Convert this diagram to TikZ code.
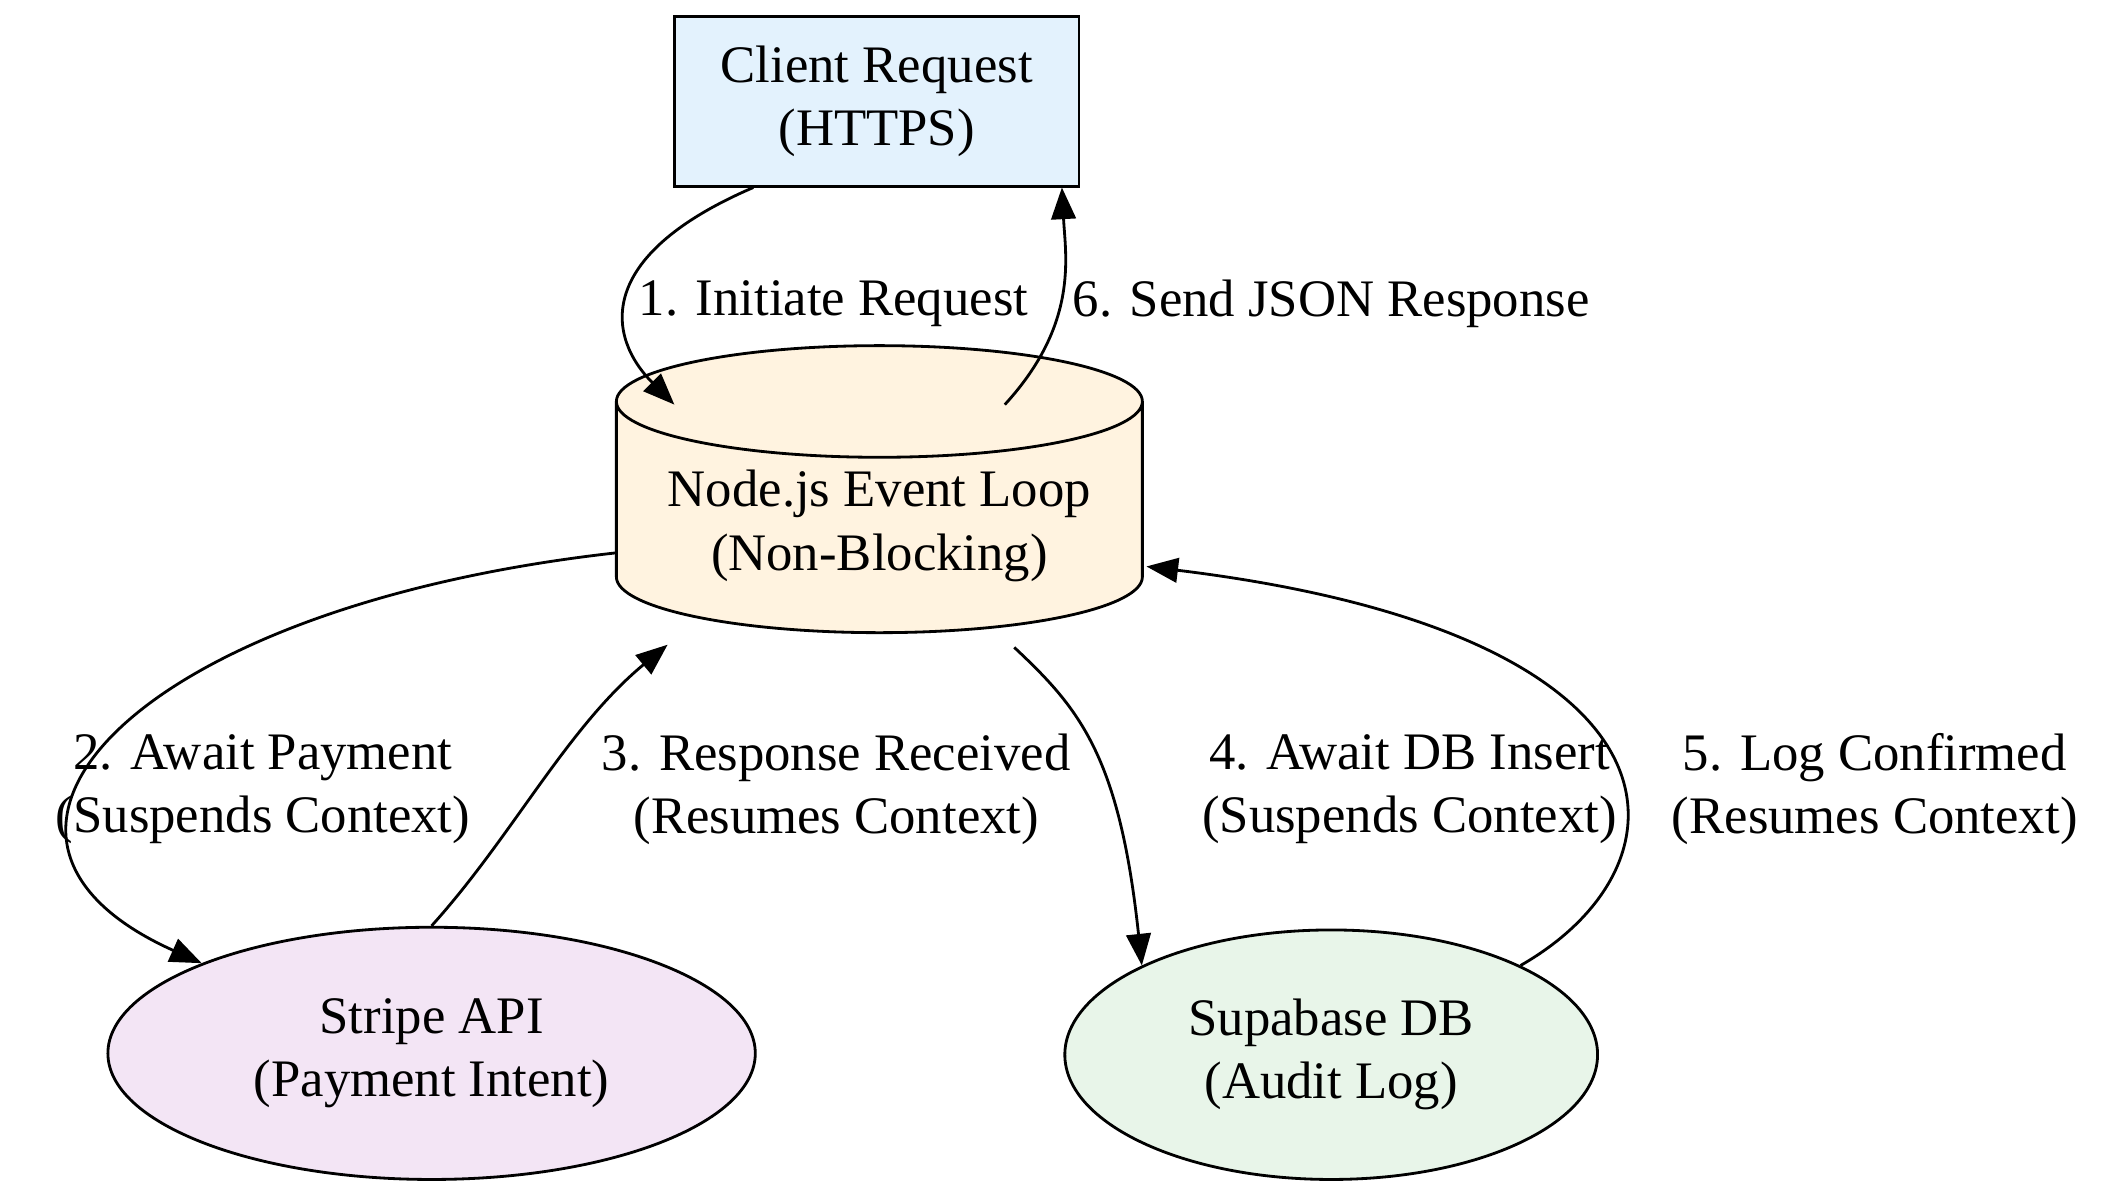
\documentclass[tikz,border=0pt]{standalone}
\usepackage{fontspec}
\setmainfont{Liberation Serif}
\usetikzlibrary{positioning,arrows.meta,calc,shapes.geometric}

\definecolor{clientblue}{HTML}{E3F2FD}
\definecolor{loopcream}{HTML}{FFF3E0}
\definecolor{stripepink}{HTML}{F3E5F5}
\definecolor{dbgreen}{HTML}{E8F5E9}

\begin{document}
\begin{tikzpicture}[x=0.01349cm, y=-0.01349cm,
	every node/.style={font=\fontsize{15}{18}\selectfont, align=center},
	flow/.style={-{Triangle[length=9pt,width=7pt]}, thick}]
		
		\useasboundingbox (0,0) rectangle (1560,880);
		
		% Nodes
		
		\node[draw= black, thick, fill=clientblue, minimum width = 300*0.01349cm,
		minimum height = 126*0.01349cm] (client) at (650,75) {Client Request\\(HTTPS)};
		
		\node[cylinder, shape border rotate=90, aspect=0.25, draw= black, thick, fill=loopcream,
		minimum width = 390*0.01349cm, minimum height = 180*0.01349cm] (loop) at (652,390) {Node.js Event Loop\\(Non-Blocking)};
		
		\node[ellipse, draw= black, thick, fill=stripepink, minimum width = 480*0.01349cm,
		minimum height = 187*0.01349cm] (stripe) at (320,781) {Stripe API\\(Payment Intent)};
		
		\node[ellipse, draw= black, thick, fill=dbgreen, minimum width = 395*0.01349cm,
		minimum height = 185*0.01349cm] (supabase) at (987,782) {Supabase DB\\(Audit Log)};
		
		
		% Connections
		
		\draw[flow] (client.-145) .. controls (440,190) and (450,250) .. (500,300);
		\node (l1) at (618,225) {1. Initiate Request};
		
		\draw[flow] (745,300) .. controls (800,240) and (790,190) .. (client.-25);
		\node (l6) at (987,225) {6. Send JSON Response};
		
		\draw[flow] (loop.west |- 0,410) .. controls (100,450) and (-60,620) .. (stripe.north west);
		\node (l2) at (195,585) {2. Await Payment\\(Suspends Context)};
		
		\draw[flow] (stripe.north) .. controls (380,620) and (420,540) .. (495,478);
		\node (l3) at (620,585) {3. Response Received\\(Resumes Context)};
		
		\draw[flow] (752,480) .. controls (800,525) and (830,560) .. (supabase.north west);
		\node (l4) at (1045,585) {4. Await DB Insert\\(Suspends Context)};
		
		\draw[flow] (supabase.north east) .. controls (1260,640) and (1260,470) .. (850,420);
		\node (l5) at (1390,585) {5. Log Confirmed\\(Resumes Context)};
		
\end{tikzpicture}
\end{document}
